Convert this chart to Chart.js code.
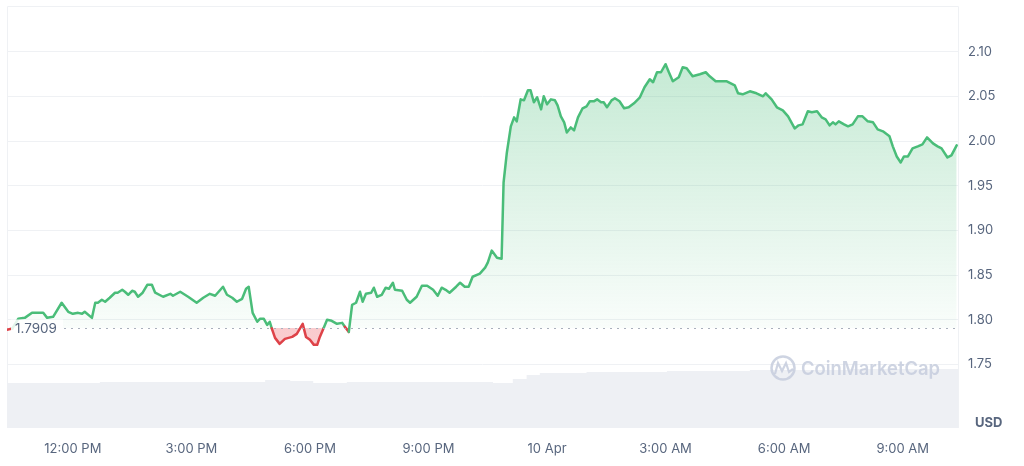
<!DOCTYPE html>
<html>
<head>
<meta charset="utf-8">
<script src="https://cdn.jsdelivr.net/npm/chart.js@4.4.0/dist/chart.umd.min.js"></script>
<style>
  html, body { margin: 0; padding: 0; background: #fff; }
  #wrap { width: 1024px; height: 466px; position: relative; }
</style>
</head>
<body>
<div id="wrap"><canvas id="price-chart" width="1024" height="466"></canvas></div>
<script>
// Datos (tiempo en minutos desde las 00:00 del primer día)
const baseline = 1.7909;

const priceTimes = [
  620, 628, 637, 647, 658, 667, 675, 681, 690, 703,
  713, 720, 728, 734, 738, 749, 754, 758, 764, 769,
  776, 784, 788, 795, 799, 804, 810, 814, 819, 826,
  833, 840, 845, 857, 868, 872, 883, 895, 908, 918,
  928, 936, 948, 954, 962, 969, 977, 983, 987, 993,
  1000, 1004, 1010, 1015, 1019, 1022, 1027, 1034, 1042, 1053,
  1060, 1069, 1074, 1080, 1086, 1091, 1095, 1101, 1106, 1113,
  1121, 1129, 1133, 1139, 1144, 1150, 1156, 1160, 1165, 1173,
  1177, 1182, 1189, 1195, 1200, 1206, 1209, 1220, 1227, 1232,
  1242, 1250, 1258, 1267, 1274, 1280, 1286, 1292, 1302, 1308,
  1315, 1321, 1327, 1338, 1346, 1350, 1356, 1364, 1371, 1374,
  1379, 1385, 1390, 1394, 1400, 1405, 1411, 1415, 1420, 1425,
  1431, 1435, 1440, 1446, 1452, 1456, 1461, 1466, 1470, 1476,
  1481, 1487, 1494, 1500, 1505, 1511, 1516, 1522, 1526, 1531,
  1538, 1543, 1550, 1557, 1564, 1572, 1581, 1588, 1596, 1601,
  1607, 1613, 1620, 1625, 1631, 1640, 1646, 1652, 1661, 1672,
  1681, 1687, 1696, 1702, 1713, 1725, 1730, 1737, 1748, 1758,
  1768, 1772, 1781, 1789, 1798, 1806, 1816, 1822, 1828, 1836,
  1842, 1850, 1857, 1863, 1869, 1874, 1878, 1883, 1891, 1897,
  1904, 1912, 1919, 1927, 1935, 1942, 1950, 1960, 1965, 1971,
  1977, 1982, 1988, 1995, 2003, 2010, 2017, 2026, 2033, 2039,
  2048, 2054, 2062
];

const prices = [
  1.7890, 1.7902, 1.8011, 1.8022, 1.8078, 1.8078, 1.8078, 1.8022, 1.8034, 1.8191,
  1.8090, 1.8067, 1.8078, 1.8067, 1.8090, 1.8022, 1.8191, 1.8191, 1.8224, 1.8202,
  1.8247, 1.8303, 1.8303, 1.8336, 1.8314, 1.8280, 1.8325, 1.8314, 1.8258, 1.8303,
  1.8392, 1.8392, 1.8303, 1.8258, 1.8291, 1.8269, 1.8314, 1.8258, 1.8191, 1.8247,
  1.8291, 1.8269, 1.8370, 1.8280, 1.8247, 1.8202, 1.8235, 1.8348, 1.8370, 1.8078,
  1.7978, 1.8011, 1.8011, 1.7944, 1.7978, 1.7905, 1.7798, 1.7731, 1.7787, 1.7809,
  1.7843, 1.7955, 1.7809, 1.7776, 1.7720, 1.7720, 1.7809, 1.7912, 1.8000, 1.7989,
  1.7955, 1.7966, 1.7922, 1.7865, 1.8168, 1.8191, 1.8314, 1.8202, 1.8291, 1.8303,
  1.8359, 1.8258, 1.8280, 1.8359, 1.8348, 1.8415, 1.8336, 1.8325, 1.8224, 1.8191,
  1.8258, 1.8381, 1.8381, 1.8336, 1.8269, 1.8359, 1.8336, 1.8303, 1.8370, 1.8415,
  1.8370, 1.8370, 1.8482, 1.8516, 1.8583, 1.8639, 1.8774, 1.8695, 1.8684, 1.9536,
  1.9872, 2.0164, 2.0265, 2.0220, 2.0466, 2.0455, 2.0567, 2.0567, 2.0433, 2.0489,
  2.0354, 2.0500, 2.0410, 2.0466, 2.0455, 2.0399, 2.0276, 2.0209, 2.0096, 2.0152,
  2.0119, 2.0265, 2.0366, 2.0388, 2.0444, 2.0444, 2.0466, 2.0433, 2.0433, 2.0377,
  2.0455, 2.0478, 2.0444, 2.0366, 2.0377, 2.0422, 2.0489, 2.0601, 2.0691, 2.0657,
  2.0769, 2.0769, 2.0859, 2.0769, 2.0668, 2.0713, 2.0825, 2.0814, 2.0724, 2.0747,
  2.0769, 2.0724, 2.0668, 2.0668, 2.0668, 2.0623, 2.0534, 2.0522, 2.0556, 2.0534,
  2.0500, 2.0534, 2.0466, 2.0377, 2.0343, 2.0276, 2.0141, 2.0175, 2.0186, 2.0332,
  2.0321, 2.0332, 2.0265, 2.0242, 2.0175, 2.0209, 2.0186, 2.0220, 2.0186, 2.0164,
  2.0186, 2.0276, 2.0276, 2.0220, 2.0209, 2.0130, 2.0108, 2.0052, 1.9940, 1.9827,
  1.9760, 1.9827, 1.9827, 1.9917, 1.9940, 1.9962, 2.0040, 1.9973, 1.9940, 1.9917,
  1.9816, 1.9839, 1.9951
];

// Volumen (millones, escala relativa)
const volumeTimes = [620, 761, 1012, 1050, 1085, 1136, 1358, 1388, 1409, 1429, 1500, 1622, 1748, 1900, 2064];
const volumes = [45, 46, 48, 47, 45, 46, 45, 49, 53, 55, 56, 57, 58, 59, 59];

// Ejes
const xTickTimes = [720, 900, 1080, 1260, 1440, 1620, 1800, 1980];
const xTickLabels = ['12:00 PM', '3:00 PM', '6:00 PM', '9:00 PM', '10 Apr', '3:00 AM', '6:00 AM', '9:00 AM'];
const yTickValues = [1.75, 1.80, 1.85, 1.90, 1.95, 2.00, 2.05, 2.10];

const GREEN = 'rgb(74, 189, 121)';
const RED = 'rgb(222, 66, 72)';
const GRID = '#eff1f4';
const TEXT = '#58667e';

// Relleno: verde arriba de la línea base, rojo abajo
function areaFill(context) {
  const chart = context.chart;
  const { ctx, chartArea, scales } = chart;
  if (!chartArea || !scales.y) return 'rgba(0,0,0,0)';
  const top = scales.y.getPixelForValue(2.09);
  const baseY = scales.y.getPixelForValue(baseline);
  const g = ctx.createLinearGradient(0, top, 0, chartArea.bottom);
  const f = Math.min(0.999, (baseY - top) / (chartArea.bottom - top));
  g.addColorStop(0, 'rgba(74, 189, 121, 0.32)');
  g.addColorStop(f, 'rgba(74, 189, 121, 0.03)');
  g.addColorStop(f + 0.0005, 'rgba(234, 57, 67, 0.26)');
  g.addColorStop(1, 'rgba(234, 57, 67, 0.26)');
  return g;
}

// Color del segmento según su punto medio respecto a la línea base
function segmentColor(c) {
  return (c.p0.parsed.y + c.p1.parsed.y) / 2 < baseline ? RED : GREEN;
}

// Marco, línea base y marca de agua
const decorations = {
  id: 'decorations',
  beforeDatasetsDraw(chart) {
    const { ctx, chartArea: a } = chart;
    ctx.save();
    ctx.strokeStyle = GRID;
    ctx.lineWidth = 1;
    ctx.beginPath();
    ctx.moveTo(a.left + 0.5, a.bottom);
    ctx.lineTo(a.left + 0.5, a.top + 0.5);
    ctx.lineTo(a.right + 0.5, a.top + 0.5);
    ctx.lineTo(a.right + 0.5, a.bottom);
    ctx.stroke();
    ctx.restore();
  },
  afterDatasetsDraw(chart) {
    const { ctx, chartArea: a, scales } = chart;
    const y = Math.round(scales.y.getPixelForValue(baseline)) + 0.5;
    ctx.save();
    // línea punteada
    ctx.strokeStyle = '#a9b0bc';
    ctx.lineWidth = 1;
    ctx.setLineDash([2, 5]);
    ctx.beginPath();
    ctx.moveTo(64, y);
    ctx.lineTo(a.right, y);
    ctx.stroke();
    ctx.setLineDash([]);
    // etiqueta
    ctx.fillStyle = 'rgba(255,255,255,0.85)';
    ctx.fillRect(11, y - 9, 52, 18);
    ctx.fillStyle = TEXT;
    ctx.font = '13.5px Inter';
    ctx.textBaseline = 'middle';
    ctx.textAlign = 'left';
    ctx.fillText(baseline.toFixed(4), 15, y);

    // marca de agua
    const wc = 'rgba(198, 205, 221, 0.85)';
    ctx.strokeStyle = wc;
    ctx.lineWidth = 2.5;
    ctx.beginPath();
    ctx.arc(783, 368, 11.5, 0, Math.PI * 2);
    ctx.stroke();
    ctx.lineWidth = 2.2;
    ctx.beginPath();
    ctx.moveTo(775, 374);
    ctx.lineTo(778, 363);
    ctx.lineTo(782, 371);
    ctx.lineTo(786, 363);
    ctx.lineTo(789, 372);
    ctx.lineTo(793, 369);
    ctx.stroke();
    ctx.fillStyle = wc;
    ctx.font = '600 19px Inter';
    const label = 'CoinMarketCap';
    const w = ctx.measureText(label).width;
    ctx.save();
    ctx.translate(801, 369);
    ctx.scale(139 / w, 1);
    ctx.fillText(label, 0, 0);
    ctx.restore();
    ctx.restore();
  },
  afterDraw(chart) {
    const { ctx } = chart;
    ctx.save();
    ctx.fillStyle = TEXT;
    ctx.font = 'bold 13px Inter';
    ctx.textAlign = 'left';
    ctx.textBaseline = 'middle';
    ctx.fillText('USD', 975, 423);
    ctx.restore();
  }
};

const ctx = document.getElementById('price-chart').getContext('2d');

new Chart(ctx, {
  type: 'line',
  data: {
    datasets: [
      {
        label: 'Price',
        data: priceTimes.map((t, i) => ({ x: t, y: prices[i] })),
        yAxisID: 'y',
        order: 1,
        borderColor: GREEN,
        borderWidth: 2.5,
        borderJoinStyle: 'round',
        borderCapStyle: 'round',
        pointRadius: 0,
        tension: 0,
        fill: { value: baseline },
        backgroundColor: areaFill,
        segment: { borderColor: segmentColor }
      },
      {
        label: 'Volume',
        data: volumeTimes.map((t, i) => ({ x: t, y: volumes[i] })),
        yAxisID: 'yVol',
        order: 2,
        stepped: 'before',
        borderWidth: 0,
        borderColor: 'rgba(0,0,0,0)',
        pointRadius: 0,
        fill: 'origin',
        backgroundColor: '#eef0f4'
      }
    ]
  },
  options: {
    responsive: false,
    animation: false,
    layout: { padding: { left: 7, top: 6, right: 0, bottom: 0 } },
    plugins: {
      legend: { display: false },
      tooltip: { enabled: false }
    },
    scales: {
      x: {
        type: 'linear',
        min: 620,
        max: 2064,
        grid: { display: false },
        border: { display: false },
        afterBuildTicks: scale => { scale.ticks = xTickTimes.map(v => ({ value: v })); },
        afterFit: scale => { scale.height = 38; },
        ticks: {
          autoSkip: false,
          maxRotation: 0,
          padding: 5,
          color: TEXT,
          font: { family: 'Inter', size: 13 },
          callback: (v, i) => xTickLabels[i]
        }
      },
      y: {
        position: 'right',
        min: 1.679,
        max: 2.151,
        grid: { color: GRID, drawTicks: false },
        border: { display: false },
        afterBuildTicks: scale => { scale.ticks = yTickValues.map(v => ({ value: v })); },
        afterFit: scale => {
          scale.width = 66;
          scale.paddingTop = 0;
          scale.paddingBottom = 0;
        },
        ticks: {
          padding: 10,
          color: TEXT,
          font: { family: 'Inter', size: 13 },
          callback: v => Number(v).toFixed(2)
        }
      },
      yVol: {
        display: false,
        min: 0,
        max: 422
      }
    }
  },
  plugins: [decorations]
});
</script>
</body>
</html>
